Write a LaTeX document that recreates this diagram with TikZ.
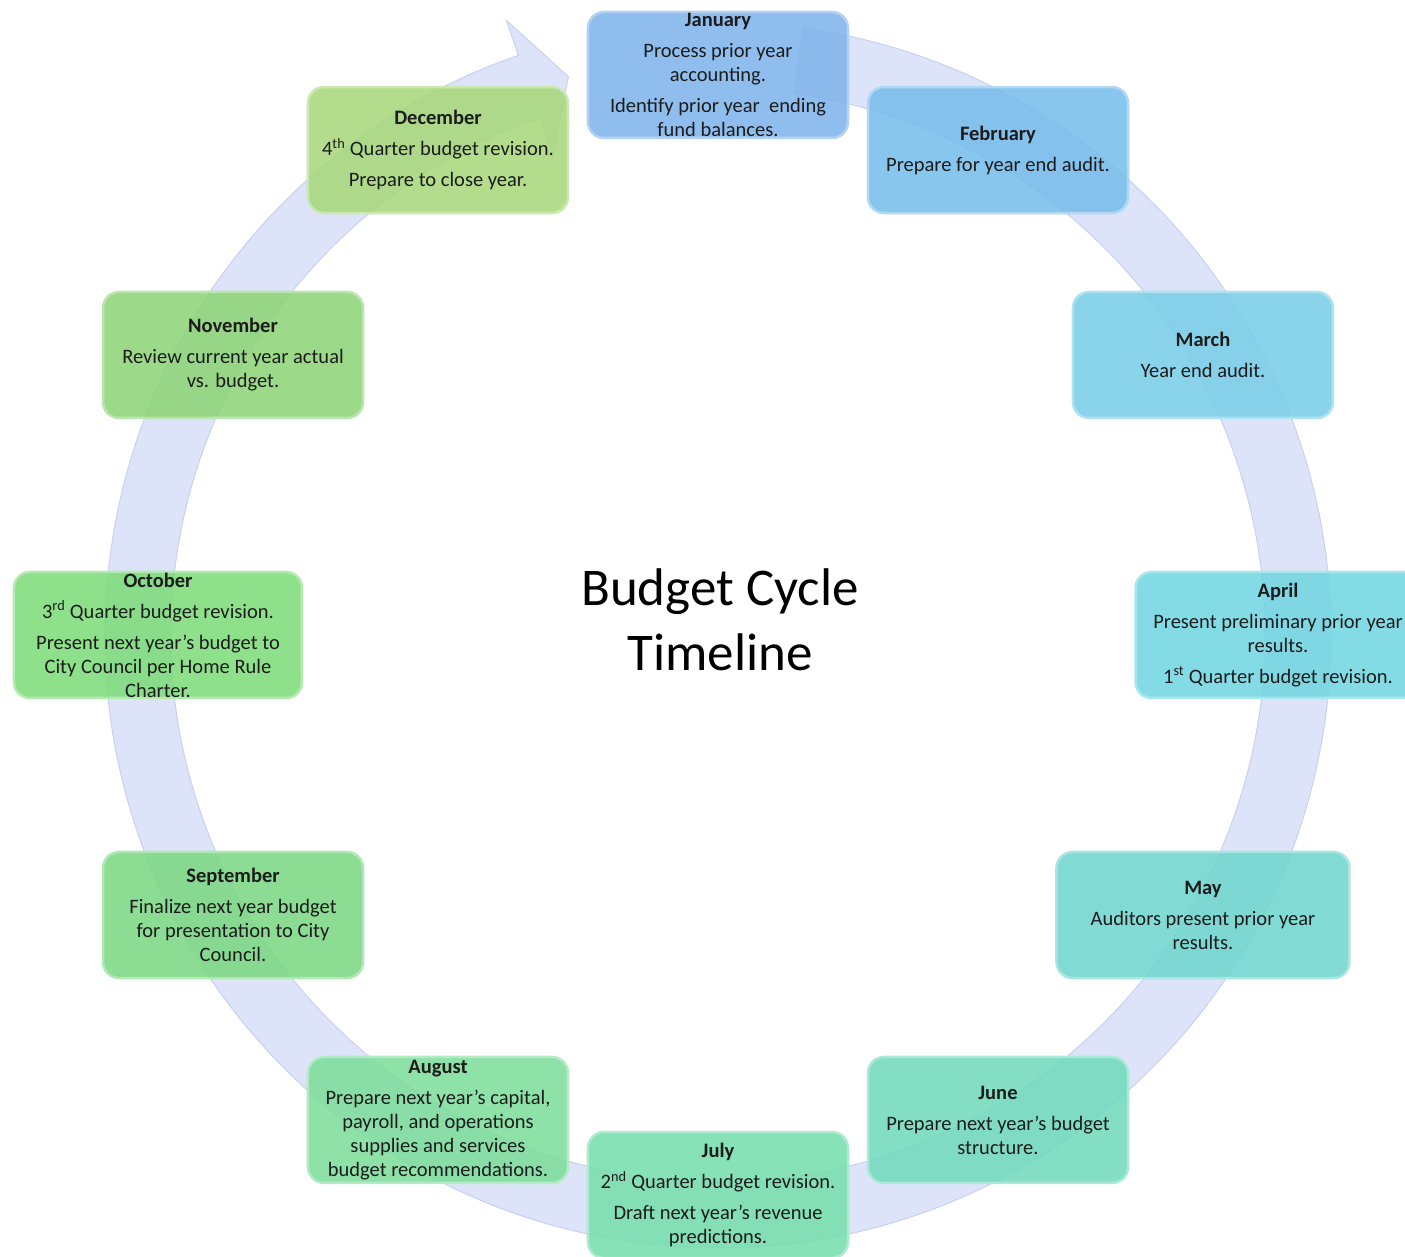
\documentclass[tikz,border=0pt]{standalone}
\usepackage{fontspec}
\setmainfont{Carlito}
\usepackage{tikz}
\usetikzlibrary{calc}

\definecolor{ringc}{RGB}{221,227,248}
\definecolor{ringedge}{RGB}{200,209,240}
\definecolor{janc}{RGB}{128,180,234}
\definecolor{febc}{RGB}{120,190,236}
\definecolor{marc}{RGB}{122,206,232}
\definecolor{aprc}{RGB}{114,214,226}
\definecolor{mayc}{RGB}{112,214,206}
\definecolor{junc}{RGB}{114,218,188}
\definecolor{julc}{RGB}{120,222,174}
\definecolor{augc}{RGB}{126,222,156}
\definecolor{sepc}{RGB}{124,216,132}
\definecolor{octc}{RGB}{126,220,122}
\definecolor{novc}{RGB}{142,212,120}
\definecolor{decc}{RGB}{168,216,124}
\definecolor{txtc}{RGB}{28,28,28}

\begin{document}
\begin{tikzpicture}[x=1pt, y=1pt,
		month/.style = {rounded corners = 16pt, minimum width = 260pt, minimum height = 126pt,
			inner sep = 0pt, align = center, text = txtc, fill opacity = 0.88, text opacity = 1,
			line width = 2.5pt, font = \fontsize{20.5}{24}\selectfont},
		ring/.style = {fill = ringc, draw = ringedge, line width = 1pt}]
			\useasboundingbox (-718, -622) rectangle (687, 635);
			% cycle arrow behind the months
			\draw[ring] (82:613) arc[start angle = 82, end angle = -251, radius = 613]
				-- (-251:650) -- (-255:578) -- (-251:506) -- (-251:547)
				arc[start angle = -251, end angle = 82, radius = 547] -- cycle;
			\node[font = \fontsize{53}{65}\selectfont, align = center] (title) at (2, 15) {Budget Cycle\\Timeline};
			% months, clockwise from the top
			\node[month, fill = janc, draw = janc!60!white] (jan) at (90:560)
				{\textbf{January}\\[7pt] Process prior year\\ accounting.\\[7pt] Identify prior year\ \ ending\\ fund balances.};
			\node[month, fill = febc, draw = febc!60!white] (feb) at (60:560)
				{\textbf{February}\\[7pt] Prepare for year end audit.};
			\node[month, fill = marc, draw = marc!60!white] (mar) at (30:560)
				{\textbf{March}\\[7pt] Year end audit.};
			\node[month, fill = aprc, draw = aprc!60!white, minimum width = 285pt] (apr) at (0:560)
				{\textbf{April}\\[7pt] Present preliminary prior year\\ results.\\[7pt] 1\textsuperscript{st} Quarter budget revision.};
			\node[month, fill = mayc, draw = mayc!60!white, minimum width = 293pt] (may) at (-30:560)
				{\textbf{May}\\[7pt] Auditors present prior year\\ results.};
			\node[month, fill = junc, draw = junc!60!white] (jun) at (-60:560)
				{\textbf{June}\\[7pt] Prepare next year's budget\\ structure.};
			\node[month, fill = julc, draw = julc!60!white] (jul) at (-90:560)
				{\textbf{July}\\[7pt] 2\textsuperscript{nd} Quarter budget revision.\\[7pt] Draft next year's revenue\\ predictions.};
			\node[month, fill = augc, draw = augc!60!white] (aug) at (-120:560)
				{\textbf{August}\\[7pt] Prepare next year's capital,\\ payroll, and operations\\ supplies and services\\ budget recommendations.};
			\node[month, fill = sepc, draw = sepc!60!white] (sep) at (-150:560)
				{\textbf{September}\\[7pt] Finalize next year budget\\ for presentation to City\\ Council.};
			\node[month, fill = octc, draw = octc!60!white, minimum width = 288pt] (oct) at (180:560)
				{\textbf{October}\\[7pt] 3\textsuperscript{rd} Quarter budget revision.\\[7pt] Present next year's budget to\\ City Council per Home Rule\\ Charter.};
			\node[month, fill = novc, draw = novc!60!white] (nov) at (150:560)
				{\textbf{November}\\[7pt] Review current year actual\\ vs. budget.};
			\node[month, fill = decc, draw = decc!60!white] (dec) at (120:560)
				{\textbf{December}\\[7pt] 4\textsuperscript{th} Quarter budget revision.\\[7pt] Prepare to close year.};
		\end{tikzpicture}
\end{document}
